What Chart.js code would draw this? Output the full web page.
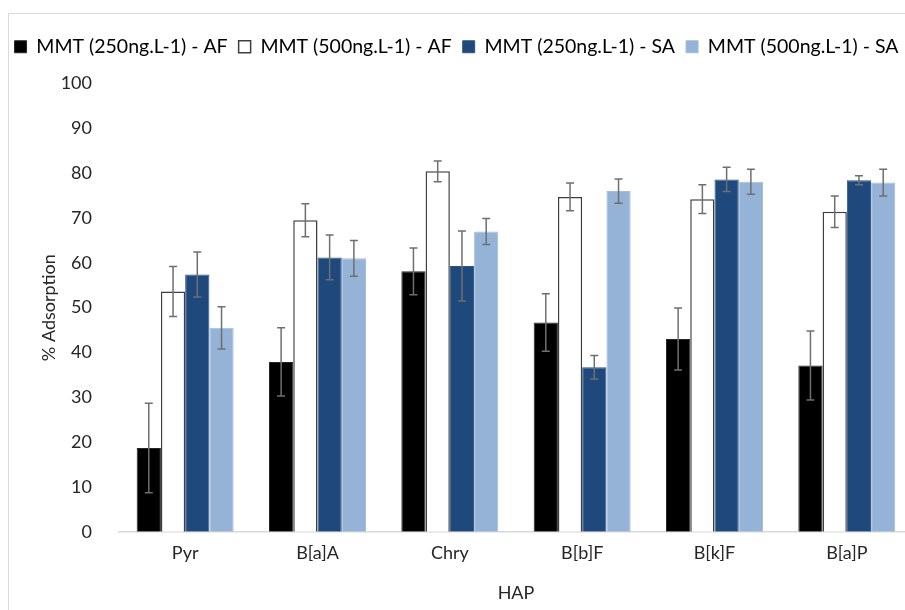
<!DOCTYPE html>
<html>
<head>
<meta charset="utf-8">
<script src="https://cdn.jsdelivr.net/npm/chart.js@4/dist/chart.umd.min.js"></script>
<style>
  html, body { margin: 0; padding: 0; background: #fff; overflow: hidden; }
  #wrap { width: 905px; height: 610px; position: relative; overflow: hidden; }
</style>
</head>
<body>
<div id="wrap"><canvas id="chart" width="925" height="610"></canvas></div>
<script>
// Data
const categories = ["Pyr", "B[a]A", "Chry", "B[b]F", "B[k]F", "B[a]P"];
const seriesNames = [
  "MMT (250ng.L-1) - AF",
  "MMT (500ng.L-1) - AF",
  "MMT (250ng.L-1) - SA",
  "MMT (500ng.L-1) - SA"
];
const af250 = [18.7, 37.9, 58.1, 46.7, 43.0, 37.1];
const af500 = [53.6, 69.5, 80.4, 74.7, 74.2, 71.4];
const sa250 = [57.4, 61.2, 59.3, 36.7, 78.6, 78.4];
const sa500 = [45.5, 61.0, 67.0, 76.0, 78.1, 77.9];
// standard deviations (error bars)
const af250Err = [10.0, 7.6, 5.2, 6.4, 6.9, 7.7];
const af500Err = [5.6, 3.7, 2.3, 3.1, 3.2, 3.5];
const sa250Err = [5.0, 5.0, 7.8, 2.6, 2.7, 1.0];
const sa500Err = [4.7, 4.0, 2.9, 2.7, 2.8, 3.0];
const yTicks = [0, 10, 20, 30, 40, 50, 60, 70, 80, 90, 100];

const FONT = "Lato, 'Open Sans', sans-serif";

// thin frame around the whole figure
const framePlugin = {
  id: "frame",
  beforeDraw(chart) {
    const ctx = chart.ctx;
    ctx.save();
    ctx.fillStyle = "#fff";
    ctx.fillRect(0, 0, chart.width, chart.height);
    ctx.strokeStyle = "#d9d9d9";
    ctx.lineWidth = 1;
    ctx.beginPath();
    ctx.moveTo(8.5, chart.height + 2);
    ctx.lineTo(8.5, 13.5);
    ctx.lineTo(chart.width + 2, 13.5);
    ctx.stroke();
    ctx.restore();
  }
};

// extra room below the legend
const legendGap = {
  id: "legendGap",
  beforeInit(chart) {
    const origFit = chart.legend.fit;
    chart.legend.fit = function () {
      origFit.call(this);
      this.height += 17;
    };
  }
};

// error bars drawn from the errors arrays through the y scale
const errorBarPlugin = {
  id: "errorBars",
  afterDatasetsDraw(chart) {
    const ctx = chart.ctx;
    const y = chart.scales.y;
    ctx.save();
    ctx.strokeStyle = "#6f6f6f";
    ctx.lineWidth = 1.5;
    chart.data.datasets.forEach((ds, i) => {
      const meta = chart.getDatasetMeta(i);
      meta.data.forEach((bar, j) => {
        const v = ds.data[j], e = ds.errors[j];
        const top = y.getPixelForValue(v + e);
        const bot = y.getPixelForValue(v - e);
        const x = bar.x;
        ctx.beginPath();
        ctx.moveTo(x, top); ctx.lineTo(x, bot);
        ctx.moveTo(x - 4, top); ctx.lineTo(x + 4, top);
        ctx.moveTo(x - 4, bot); ctx.lineTo(x + 4, bot);
        ctx.stroke();
      });
    });
    ctx.restore();
  }
};

const makeSet = (label, data, errors, fill, border, bw) => ({
  label, data, errors,
  backgroundColor: fill,
  borderColor: border,
  borderWidth: bw,
  categoryPercentage: 0.733,
  barPercentage: 1.0
});

new Chart(document.getElementById("chart"), {
  type: "bar",
  data: {
    labels: categories,
    datasets: [
      makeSet(seriesNames[0], af250, af250Err, "#000000", "#262626", 1),
      makeSet(seriesNames[1], af500, af500Err, "#ffffff", "#3f3f3f", 1.5),
      makeSet(seriesNames[2], sa250, sa250Err, "#1f497d", "#2c5484", 1),
      makeSet(seriesNames[3], sa500, sa500Err, "#95b3d7", "#a3bddc", 1)
    ]
  },
  options: {
    responsive: false,
    animation: false,
    layout: { padding: { left: 0, right: 12, top: 26, bottom: 2 } },
    plugins: {
      legend: {
        position: "top",
        labels: {
          font: { family: FONT, size: 19.5 },
          color: "#000",
          boxWidth: 12,
          boxHeight: 12,
          padding: 11
        }
      },
      tooltip: { enabled: false }
    },
    scales: {
      x: {
        grid: { display: false },
        border: { color: "#d9d9d9", width: 1.5 },
        ticks: { font: { family: FONT, size: 18 }, color: "#262626", padding: 3 },
        title: { display: true, text: "HAP", font: { family: FONT, size: 18 }, color: "#262626", padding: { top: 15 } }
      },
      y: {
        min: 0, max: 100,
        afterBuildTicks(scale) { scale.ticks = yTicks.map(v => ({ value: v })); },
        afterFit(scale) { scale.width = 119; },
        grid: { display: false },
        border: { display: false },
        ticks: { font: { family: FONT, size: 18 }, color: "#262626", padding: 19 },
        title: { display: true, text: "% Adsorption", font: { family: FONT, size: 18 }, color: "#262626", padding: { top: 38, bottom: 0 } }
      }
    }
  },
  plugins: [framePlugin, legendGap, errorBarPlugin]
});
</script>
</body>
</html>
